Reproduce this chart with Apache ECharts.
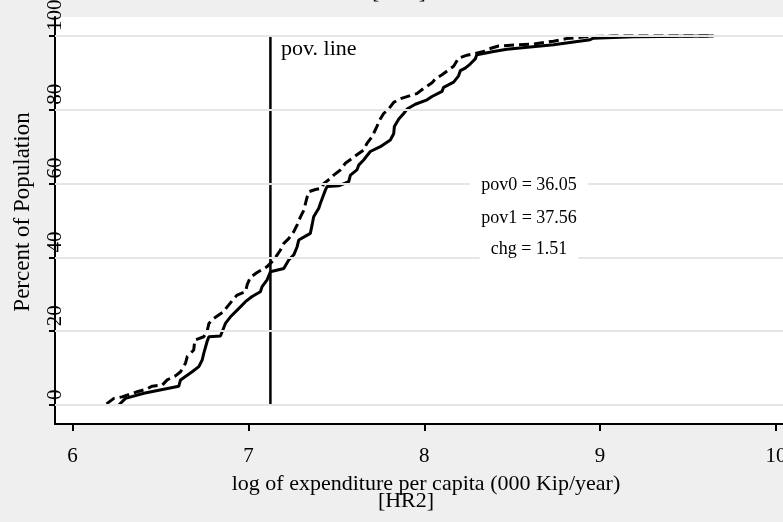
<!DOCTYPE html>
<html>
<head>
<meta charset="utf-8">
<script src="https://cdn.jsdelivr.net/npm/echarts@6/dist/echarts.min.js"></script>
<style>
  html, body { margin: 0; padding: 0; background: #efefef; }
  #main { width: 783px; height: 522px; }
</style>
</head>
<body>
<div id="main"></div>
<script>
var xTicks = [6, 7, 8, 9, 10];
var yTicks = [0, 20, 40, 60, 80, 100];

// solid curve
var solidX = [6.263, 6.301, 6.405, 6.604, 6.614, 6.680, 6.718, 6.737, 6.746, 6.765, 6.775, 6.841, 6.869, 6.898, 6.936,
  6.983, 7.021, 7.068, 7.078, 7.106, 7.125, 7.201, 7.229, 7.258, 7.277, 7.286, 7.352, 7.362, 7.371, 7.400, 7.409, 7.438,
  7.447, 7.513, 7.570, 7.580, 7.617, 7.627, 7.655, 7.693, 7.750, 7.807, 7.826, 7.830, 7.855, 7.883, 7.902, 7.949, 8.016,
  8.044, 8.101, 8.110, 8.167, 8.195, 8.205, 8.233, 8.261, 8.290, 8.299, 8.394, 8.470, 8.735, 8.943, 8.962, 9.190, 9.645];
var solidY = [0, 1.8, 3.2, 5.1, 6.8, 9.0, 10.4, 12.2, 14.0, 17.2, 18.5, 18.7, 22.1, 23.9, 25.7,
  28.0, 29.4, 30.7, 32.1, 33.9, 36.1, 37.0, 39.3, 40.7, 42.9, 44.7, 46.5, 48.8, 51.0, 53.3, 54.6, 58.3,
  59.2, 59.4, 60.5, 62.3, 63.7, 65.0, 66.4, 68.7, 70.0, 71.8, 73.5, 75.5, 77.5, 79.0, 80.2, 81.5, 82.7,
  83.6, 85.0, 86.1, 87.5, 89.2, 90.6, 91.3, 92.4, 93.8, 94.9, 95.8, 96.4, 97.6, 99.0, 99.4, 99.8, 100];

// dashed curve
var dashX = [6.193, 6.235, 6.282, 6.330, 6.367, 6.415, 6.453, 6.510, 6.538, 6.585, 6.614, 6.642, 6.652, 6.689, 6.695,
  6.746, 6.765, 6.775, 6.803, 6.860, 6.879, 6.917, 6.936, 6.983, 6.993, 7.011, 7.049, 7.106, 7.116, 7.144, 7.182, 7.201,
  7.229, 7.258, 7.277, 7.296, 7.315, 7.334, 7.343, 7.381, 7.419, 7.428, 7.466, 7.485, 7.523, 7.551, 7.589, 7.617, 7.655,
  7.674, 7.703, 7.731, 7.750, 7.769, 7.797, 7.826, 7.864, 7.911, 7.958, 7.996, 8.044, 8.063, 8.101, 8.138, 8.167, 8.195,
  8.243, 8.290, 8.337, 8.375, 8.422, 8.527, 8.621, 8.735, 8.810, 8.915, 9.074, 9.645];
var dashY = [0.3, 1.8, 2.2, 3.0, 3.6, 4.2, 5.1, 5.4, 6.8, 7.9, 9.0, 11.3, 13.1, 14.9, 17.6,
  18.5, 19.9, 22.1, 23.5, 25.3, 26.6, 28.8, 29.8, 30.7, 32.6, 34.6, 35.9, 37.5, 37.9, 39.3, 42.0, 43.8,
  45.1, 47.0, 48.8, 51.0, 52.8, 56.4, 57.8, 58.4, 58.8, 60.0, 61.4, 62.3, 63.7, 65.5, 66.8, 67.8, 69.1,
  70.9, 72.7, 75.5, 77.5, 79.0, 80.2, 82.0, 83.0, 83.7, 84.4, 85.8, 87.3, 88.4, 89.5, 90.8, 91.8, 94.0,
  94.8, 95.3, 95.8, 96.6, 97.3, 97.6, 97.8, 98.6, 99.3, 99.8, 100, 100];

var povX = 7.125;
var povLabel = 'pov. line';
var statLines = ['pov0 = 36.05', 'pov1 = 37.56', 'chg = 1.51'];

function pairs(xs, ys) {
  var out = [];
  for (var i = 0; i < xs.length; i++) out.push([xs[i], ys[i]]);
  return out;
}

var font = 'Liberation Serif';
var myChart = echarts.init(document.getElementById('main'));

function statText(i, y) {
  return {
    type: 'text', x: 529, y: y, z: 10,
    style: {
      text: statLines[i], font: '18px ' + font, fill: '#000',
      textAlign: 'center', textVerticalAlign: 'middle',
      backgroundColor: '#fff', padding: [3, 11]
    }
  };
}

var option = {
  backgroundColor: '#efefef',
  animation: false,
  grid: {
    left: 55, right: 0, top: 17, bottom: 98,
    containLabel: false, outerBoundsMode: 'none',
    show: true, backgroundColor: '#ffffff', borderWidth: 0
  },
  xAxis: {
    type: 'value',
    min: 5.9, max: 10.04,
    axisLine: { onZero: false, lineStyle: { color: '#000', width: 2 } },
    axisTick: { length: 7, lineStyle: { color: '#000', width: 2 }, customValues: xTicks },
    axisLabel: { customValues: xTicks, margin: 22, color: '#000', fontFamily: font, fontSize: 21 },
    splitLine: { show: false }
  },
  yAxis: {
    type: 'value',
    min: -5.15, max: 105.15,
    axisLine: { onZero: false, lineStyle: { color: '#000', width: 2 } },
    axisTick: { length: 6, lineStyle: { color: '#000', width: 2 }, customValues: yTicks },
    axisLabel: {
      customValues: yTicks, rotate: 90, margin: 0, align: 'left', verticalAlign: 'middle',
      padding: [0, 0, 0, 5],
      color: '#000', fontFamily: font, fontSize: 21
    },
    splitLine: { show: false }
  },
  graphic: [
    { type: 'text', x: 399, y: -18, style: { text: '[HR1]', font: '21px ' + font, fill: '#000', textAlign: 'center' } },
    { type: 'text', x: 281, y: 49, style: { text: povLabel, font: '22px ' + font, fill: '#000', textVerticalAlign: 'middle' } },
    { type: 'text', x: 426, y: 484, style: { text: 'log of expenditure per capita (000 Kip/year)', font: '22px ' + font, fill: '#000', textAlign: 'center', textVerticalAlign: 'middle' } },
    { type: 'text', x: 406, y: 501, style: { text: '[HR2]', font: '22px ' + font, fill: '#000', textAlign: 'center', textVerticalAlign: 'middle' } },
    { type: 'text', x: 23, y: 212, rotation: Math.PI / 2, style: { text: 'Percent of Population', font: '23px ' + font, fill: '#000', textAlign: 'center', textVerticalAlign: 'middle' } },
    statText(0, 185),
    statText(1, 218),
    statText(2, 249)
  ],
  series: [
    {
      name: 'grid',
      type: 'line',
      data: [],
      z: 1,
      markLine: {
        silent: true,
        symbol: 'none',
        label: { show: false },
        lineStyle: { color: '#e6e6e6', width: 2, type: 'solid' },
        data: yTicks.map(function (v) { return { yAxis: v }; })
      }
    },
    {
      name: 'pov line',
      type: 'line',
      z: 3,
      showSymbol: false,
      data: [[povX, 0], [povX, 100]],
      lineStyle: { color: '#000', width: 2.5 }
    },
    {
      name: 'dashed',
      type: 'line',
      z: 4,
      showSymbol: false,
      data: pairs(dashX, dashY),
      lineStyle: { color: '#000', width: 3, type: [10, 5] }
    },
    {
      name: 'solid',
      type: 'line',
      z: 4,
      showSymbol: false,
      data: pairs(solidX, solidY),
      lineStyle: { color: '#000', width: 3 }
    }
  ]
};
myChart.setOption(option);
</script>
</body>
</html>
